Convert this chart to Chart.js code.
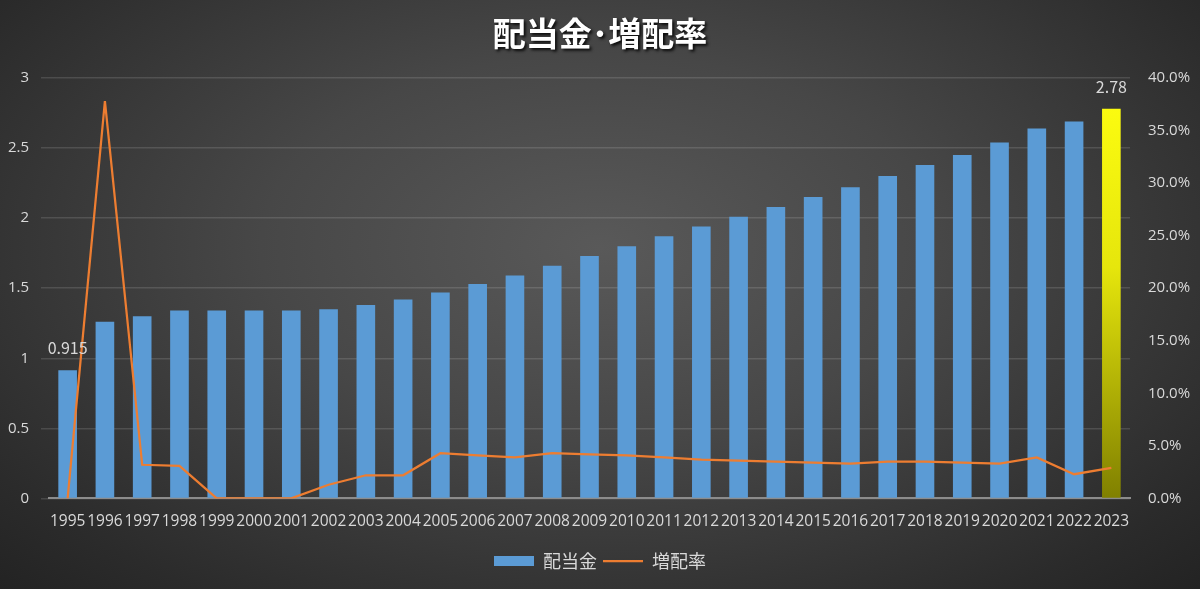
<!DOCTYPE html>
<html lang="ja">
<head>
<meta charset="utf-8">
<title>配当金･増配率</title>
<script src="https://cdn.jsdelivr.net/npm/chart.js@4.4.1/dist/chart.umd.min.js"></script>
<style>
  html, body { margin: 0; padding: 0; }
  body {
    width: 1200px;
    height: 589px;
    overflow: hidden;
    background: radial-gradient(ellipse at 50% 42%, #595959 0%, #474747 40%, #2b2b2b 85%, #232323 100%);
  }
  #wrap { position: relative; width: 1200px; height: 589px; }
</style>
</head>
<body>
<div id="wrap"><canvas id="divChart"></canvas></div>
<script>
const years = ['1995', '1996', '1997', '1998', '1999', '2000', '2001', '2002', '2003', '2004',
  '2005', '2006', '2007', '2008', '2009', '2010', '2011', '2012', '2013', '2014',
  '2015', '2016', '2017', '2018', '2019', '2020', '2021', '2022', '2023'];

// 配当金 (dividend per share)
const dividends = [0.915, 1.26, 1.30, 1.34, 1.34, 1.34, 1.34, 1.35, 1.38, 1.42,
  1.47, 1.53, 1.59, 1.66, 1.73, 1.80, 1.87, 1.94, 2.01, 2.08,
  2.15, 2.22, 2.30, 2.38, 2.45, 2.54, 2.64, 2.69, 2.78];

// 増配率 (%)
const growth = [0, 37.8, 3.2, 3.1, 0, 0, 0, 1.3, 2.2, 2.2,
  4.3, 4.1, 3.9, 4.3, 4.2, 4.1, 3.9, 3.7, 3.6, 3.5,
  3.4, 3.3, 3.5, 3.5, 3.4, 3.3, 3.9, 2.3, 2.9];

const leftTicks = [0, 0.5, 1, 1.5, 2, 2.5, 3];
const labelledBars = [0, 28];

const FONT = "'Noto Sans CJK JP', 'Open Sans', sans-serif";
const NUM_FONT = "'Open Sans', 'Noto Sans CJK JP', sans-serif";
const TEXT = '#d9d9d9';

const titlePlugin = {
  id: 'shadowTitle',
  afterDraw(chart) {
    const ctx = chart.ctx;
    ctx.save();
    ctx.font = 'bold 33px ' + FONT;
    ctx.textAlign = 'center';
    ctx.textBaseline = 'middle';
    ctx.shadowColor = 'rgba(0,0,0,0.85)';
    ctx.shadowBlur = 3;
    ctx.shadowOffsetX = 2;
    ctx.shadowOffsetY = 2;
    ctx.fillStyle = '#ffffff';
    ctx.fillText('配当金･増配率', 600, 33);
    ctx.restore();
  }
};

const barLabels = {
  id: 'barLabels',
  afterDatasetsDraw(chart) {
    const ctx = chart.ctx;
    const meta = chart.getDatasetMeta(0);
    ctx.save();
    ctx.font = '16px ' + FONT;
    ctx.fillStyle = TEXT;
    ctx.textAlign = 'center';
    ctx.textBaseline = 'middle';
    labelledBars.forEach(i => {
      const bar = meta.data[i];
      ctx.fillText(String(dividends[i]), bar.x, bar.y - 22);
    });
    ctx.restore();
  }
};

function barColor(context) {
  if (context.dataIndex !== years.length - 1) return '#5b9bd5';
  const area = context.chart.chartArea;
  if (!area) return '#ffff00';
  const g = context.chart.ctx.createLinearGradient(0, area.top, 0, area.bottom);
  g.addColorStop(0, '#ffff10');
  g.addColorStop(0.45, '#e6e60c');
  g.addColorStop(1, '#808000');
  return g;
}

const ctx = document.getElementById('divChart');

new Chart(ctx, {
  data: {
    labels: years,
    datasets: [{
      type: 'bar',
      label: '配当金',
      data: dividends,
      backgroundColor: barColor,
      borderWidth: 0,
      barPercentage: 0.5,
      categoryPercentage: 1,
      pointStyle: 'rect',
      yAxisID: 'y',
      order: 1
    }, {
      type: 'line',
      label: '増配率',
      data: growth,
      borderColor: '#ed7d31',
      backgroundColor: '#ed7d31',
      borderWidth: 2.25,
      pointRadius: 0,
      tension: 0,
      pointStyle: 'line',
      yAxisID: 'y2',
      order: 0
    }]
  },
  options: {
    responsive: true,
    maintainAspectRatio: false,
    animation: false,
    layout: {
      padding: { top: 78, left: 0, right: 0, bottom: 9 }
    },
    plugins: {
      title: { display: false },
      tooltip: { enabled: false },
      legend: {
        position: 'bottom',
        labels: {
          color: TEXT,
          font: { family: FONT, size: 18 },
          usePointStyle: true,
          pointStyleWidth: 40,
          boxHeight: 10,
          padding: 6,
          sort: (a, b) => a.datasetIndex - b.datasetIndex
        }
      }
    },
    scales: {
      x: {
        afterFit(scale) { scale.height += 9; },
        grid: { display: false },
        border: { color: '#8c8c8c', width: 2 },
        ticks: {
          color: TEXT,
          font: { family: NUM_FONT, size: 15.5 },
          autoSkip: false,
          maxRotation: 0,
          padding: 6
        }
      },
      y: {
        position: 'left',
        min: 0,
        max: 3,
        afterFit(scale) { scale.width = 49; },
        afterBuildTicks(scale) { scale.ticks = leftTicks.map(v => ({ value: v })); },
        grid: { color: 'rgba(255,255,255,0.13)', lineWidth: 1.5 },
        border: { display: false },
        ticks: {
          color: TEXT,
          font: { family: NUM_FONT, size: 15 },
          padding: 12,
          callback: v => String(v)
        }
      },
      y2: {
        position: 'right',
        min: 0,
        max: 40,
        afterFit(scale) { scale.width = 70; },
        grid: { display: false },
        border: { display: false },
        ticks: {
          color: TEXT,
          font: { family: NUM_FONT, size: 15 },
          stepSize: 5,
          padding: 10,
          callback: v => v.toFixed(1) + '%'
        }
      }
    }
  },
  plugins: [titlePlugin, barLabels]
});
</script>
</body>
</html>
